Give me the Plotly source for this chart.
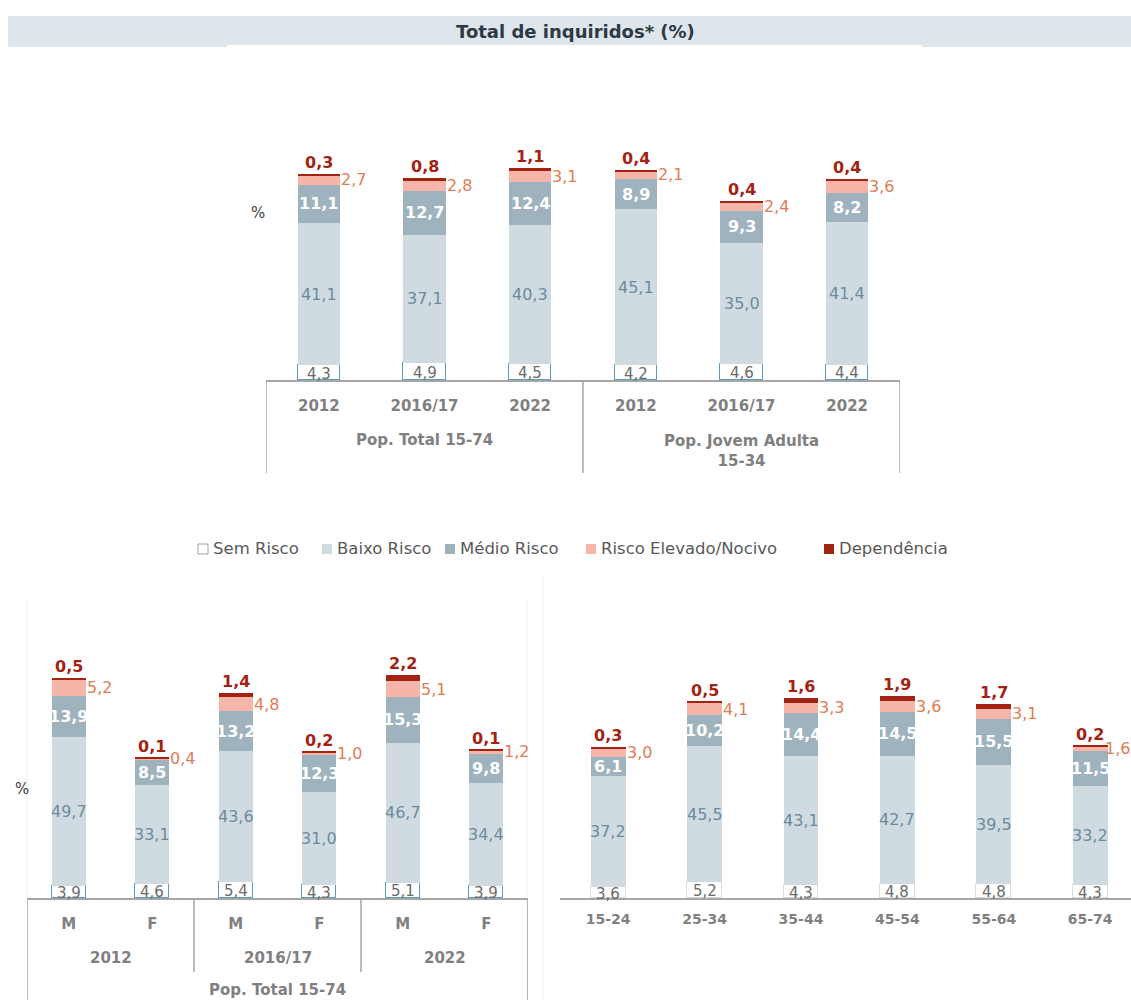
import plotly.graph_objects as go

W, H = 1131, 1000
FONT = "DejaVu Sans"

series = ["Sem Risco", "Baixo Risco", "Médio Risco", "Risco Elevado/Nocivo", "Dependência"]
fills = ["#ffffff", "#d0dbe1", "#9eb3be", "#f5b5a9", "#a32313"]
label_colors = ["#6b6b6b", "#6c8c9e", "#ffffff", "#e07c55", "#a32313"]

# --- Top panel: total population vs. young adults, by survey year
top_groups = ["Pop. Total 15-74", "Pop. Jovem Adulta<br>15-34"]
top_years = ["2012", "2016/17", "2022", "2012", "2016/17", "2022"]
top_sem = [4.3, 4.9, 4.5, 4.2, 4.6, 4.4]
top_baixo = [41.1, 37.1, 40.3, 45.1, 35.0, 41.4]
top_medio = [11.1, 12.7, 12.4, 8.9, 9.3, 8.2]
top_elev = [2.7, 2.8, 3.1, 2.1, 2.4, 3.6]
top_dep = [0.3, 0.8, 1.1, 0.4, 0.4, 0.4]

# --- Bottom-left panel: by sex and survey year
sex_years = ["2012", "2016/17", "2022"]
sex_labels = ["M", "F", "M", "F", "M", "F"]
sex_sem = [3.9, 4.6, 5.4, 4.3, 5.1, 3.9]
sex_baixo = [49.7, 33.1, 43.6, 31.0, 46.7, 34.4]
sex_medio = [13.9, 8.5, 13.2, 12.3, 15.3, 9.8]
sex_elev = [5.2, 0.4, 4.8, 1.0, 5.1, 1.2]
sex_dep = [0.5, 0.1, 1.4, 0.2, 2.2, 0.1]

# --- Bottom-right panel: by age group
ages = ["15-24", "25-34", "35-44", "45-54", "55-64", "65-74"]
age_sem = [3.6, 5.2, 4.3, 4.8, 4.8, 4.3]
age_baixo = [37.2, 45.5, 43.1, 42.7, 39.5, 33.2]
age_medio = [6.1, 10.2, 14.4, 14.5, 15.5, 11.5]
age_elev = [3.0, 4.1, 3.3, 3.6, 3.1, 1.6]
age_dep = [0.3, 0.5, 1.6, 1.9, 1.7, 0.2]


def px(v):
    return v / W


def py(v):
    return 1 - v / H


def fmt(v):
    return f"{v:.1f}".replace(".", ",")


top_keys = [f"{g.split('<br>')[0]} {y}" for g, y in zip([top_groups[0]] * 3 + [top_groups[1]] * 3, top_years)]
sex_keys = [f"{y} {s}" for y, s in zip([y for y in sex_years for _ in (0, 1)], sex_labels)]

panels = [
    dict(xa="x", ya="y", keys=top_keys, width=0.4, semline="#5d9cba", edge=False,
         vals=[top_sem, top_baixo, top_medio, top_elev, top_dep]),
    dict(xa="x2", ya="y2", keys=sex_keys, width=0.41, semline="#5d9cba", edge=False,
         vals=[sex_sem, sex_baixo, sex_medio, sex_elev, sex_dep]),
    dict(xa="x3", ya="y3", keys=ages, width=0.36, semline="#d5dfe4", edge=True,
         vals=[age_sem, age_baixo, age_medio, age_elev, age_dep]),
]

fig = go.Figure()
annotations = []


def note(**kw):
    kw.setdefault("showarrow", False)
    kw.setdefault("xanchor", "center")
    kw.setdefault("yanchor", "middle")
    annotations.append(kw)


for p in panels:
    for si, name in enumerate(series):
        line = dict(color=p["semline"], width=1) if si == 0 else dict(width=0)
        fig.add_trace(go.Bar(
            x=p["keys"], y=p["vals"][si], name=name, xaxis=p["xa"], yaxis=p["ya"],
            marker=dict(color=fills[si], line=line), width=p["width"],
            showlegend=False, hoverinfo="skip",
        ))
    # value labels, positioned from the cumulative stack
    n = len(p["keys"])
    for i in range(n):
        base = 0.0
        for si in range(len(series)):
            v = p["vals"][si][i]
            mid = base + v / 2
            top = base + v
            common = dict(xref=p["xa"], yref=p["ya"], text=fmt(v))
            if si == 0:
                note(**common, x=i, y=mid, yshift=-1,
                     font=dict(family=FONT, size=15, color=label_colors[0]))
            elif si == 1:
                note(**common, x=i, y=mid,
                     font=dict(family=FONT, size=16, color=label_colors[1]))
            elif si == 2:
                note(**common, x=i, y=mid,
                     font=dict(family=FONT, size=16, color=label_colors[2], weight="bold"))
            elif si == 3:
                # the last label of the age panel sits against the page edge
                shift = -5 if (p["edge"] and i == n - 1) else -1
                note(**common, x=i + p["width"] / 2, y=mid, xanchor="left", xshift=shift,
                     font=dict(family=FONT, size=16, color=label_colors[3]))
            else:
                note(**common, x=i, y=top, yanchor="bottom",
                     font=dict(family=FONT, size=16, color=label_colors[4], weight="bold"))
            base = top

axis_grey = "#a6a6a6"
tick_font = dict(family=FONT, size=15, color="#808080", weight="bold")
xcommon = dict(type="category", showline=True, linecolor=axis_grey, linewidth=1.5,
               showgrid=False, zeroline=False, ticks="outside", ticklen=11,
               tickcolor="rgba(0,0,0,0)", tickfont=tick_font, fixedrange=True)
ycommon = dict(visible=False, showgrid=False, zeroline=False, fixedrange=True)

top_scale = 3.46
bot_scale = 3.0
top_base, bot_base = 380, 898

fig.update_layout(
    width=W, height=H, margin=dict(l=0, r=0, t=0, b=0),
    paper_bgcolor="white", plot_bgcolor="rgba(0,0,0,0)",
    barmode="stack", bargap=0,
    xaxis=dict(xcommon, domain=[px(266), px(900)], range=[-0.5, 5.5], anchor="y",
               tickvals=top_keys, ticktext=top_years),
    yaxis=dict(ycommon, domain=[py(top_base), py(150)], range=[0, (top_base - 150) / top_scale], anchor="x"),
    xaxis2=dict(xcommon, domain=[px(27), px(528)], range=[-0.5, 5.5], anchor="y2",
                tickvals=sex_keys, ticktext=sex_labels),
    yaxis2=dict(ycommon, domain=[py(bot_base), py(630)], range=[0, (bot_base - 630) / bot_scale], anchor="x2"),
    xaxis3=dict(xcommon, domain=[px(560), 1.0], range=[-0.5, (W - 560) / 96.4 - 0.5], anchor="y3",
                tickvals=ages, ticktext=ages, tickfont=dict(tick_font, size=14), ticklen=7),
    yaxis3=dict(ycommon, domain=[py(bot_base), py(630)], range=[0, (bot_base - 630) / bot_scale], anchor="x3"),
)

shapes = []
# title band
shapes.append(dict(type="rect", xref="paper", yref="paper", x0=px(8), x1=1, y0=py(47), y1=py(16),
                   fillcolor="#dee5eb", line=dict(width=0), layer="below"))
shapes.append(dict(type="rect", xref="paper", yref="paper", x0=px(227), x1=px(922), y0=py(47), y1=py(45),
                   fillcolor="#ffffff", line=dict(width=0), layer="below"))
note(xref="paper", yref="paper", x=px(575), y=py(31), text="Total de inquiridos* (%)",
     font=dict(family=FONT, size=18, color="#2d3a45", weight="bold"))

# faint chart-area borders of the lower panels
for x0, y0, y1 in [(27, 600, 898), (527, 598, 1000), (543, 575, 1000)]:
    shapes.append(dict(type="line", xref="paper", yref="paper", x0=px(x0), x1=px(x0), y0=py(y0), y1=py(y1),
                       line=dict(color="#f1f1f1", width=1), layer="below"))

# group dividers under the category axes
for xv in [-0.5, 2.5, 5.5]:
    shapes.append(dict(type="line", xref="x", yref="paper", x0=xv, x1=xv, y0=py(top_base), y1=py(473),
                       line=dict(color=axis_grey, width=1.5)))
for xv, yend in [(-0.5, 1000), (1.5, 972), (3.5, 972), (5.5, 1000)]:
    shapes.append(dict(type="line", xref="x2", yref="paper", x0=xv, x1=xv, y0=py(bot_base), y1=py(yend),
                       line=dict(color=axis_grey, width=1.5)))

group_font = dict(family=FONT, size=15, color="#808080", weight="bold")
note(xref="x", yref="paper", x=1, y=py(440), text=top_groups[0], font=group_font)
note(xref="x", yref="paper", x=4, y=py(451), text=top_groups[1], font=group_font)
for k, yr in enumerate(sex_years):
    note(xref="x2", yref="paper", x=2 * k + 0.5, y=py(958), text=yr, font=group_font)
note(xref="x2", yref="paper", x=2.5, y=py(990), text="Pop. Total 15-74", font=group_font)

# "%" unit labels
pct_font = dict(family=FONT, size=15, color="#404040")
note(xref="paper", yref="paper", x=px(258), y=py(213), text="%", font=pct_font)
note(xref="paper", yref="paper", x=px(22), y=py(789), text="%", font=pct_font)

# legend row
legend_x = [(203, 211), (327, 335), (450, 458), (591, 599), (829, 837)]
for si, (mx, tx) in enumerate(legend_x):
    border = dict(color="#a0a0a0", width=1) if si == 0 else dict(width=0)
    shapes.append(dict(type="rect", xref="paper", yref="paper", x0=px(mx - 5), x1=px(mx + 5),
                       y0=py(554), y1=py(544), fillcolor=fills[si], line=border))
    note(xref="paper", yref="paper", x=px(tx), y=py(548), xanchor="left", text=series[si],
         font=dict(family=FONT, size=16.5, color="#595959"))

fig.update_layout(shapes=shapes, annotations=annotations)
fig.write_html("out.html")
